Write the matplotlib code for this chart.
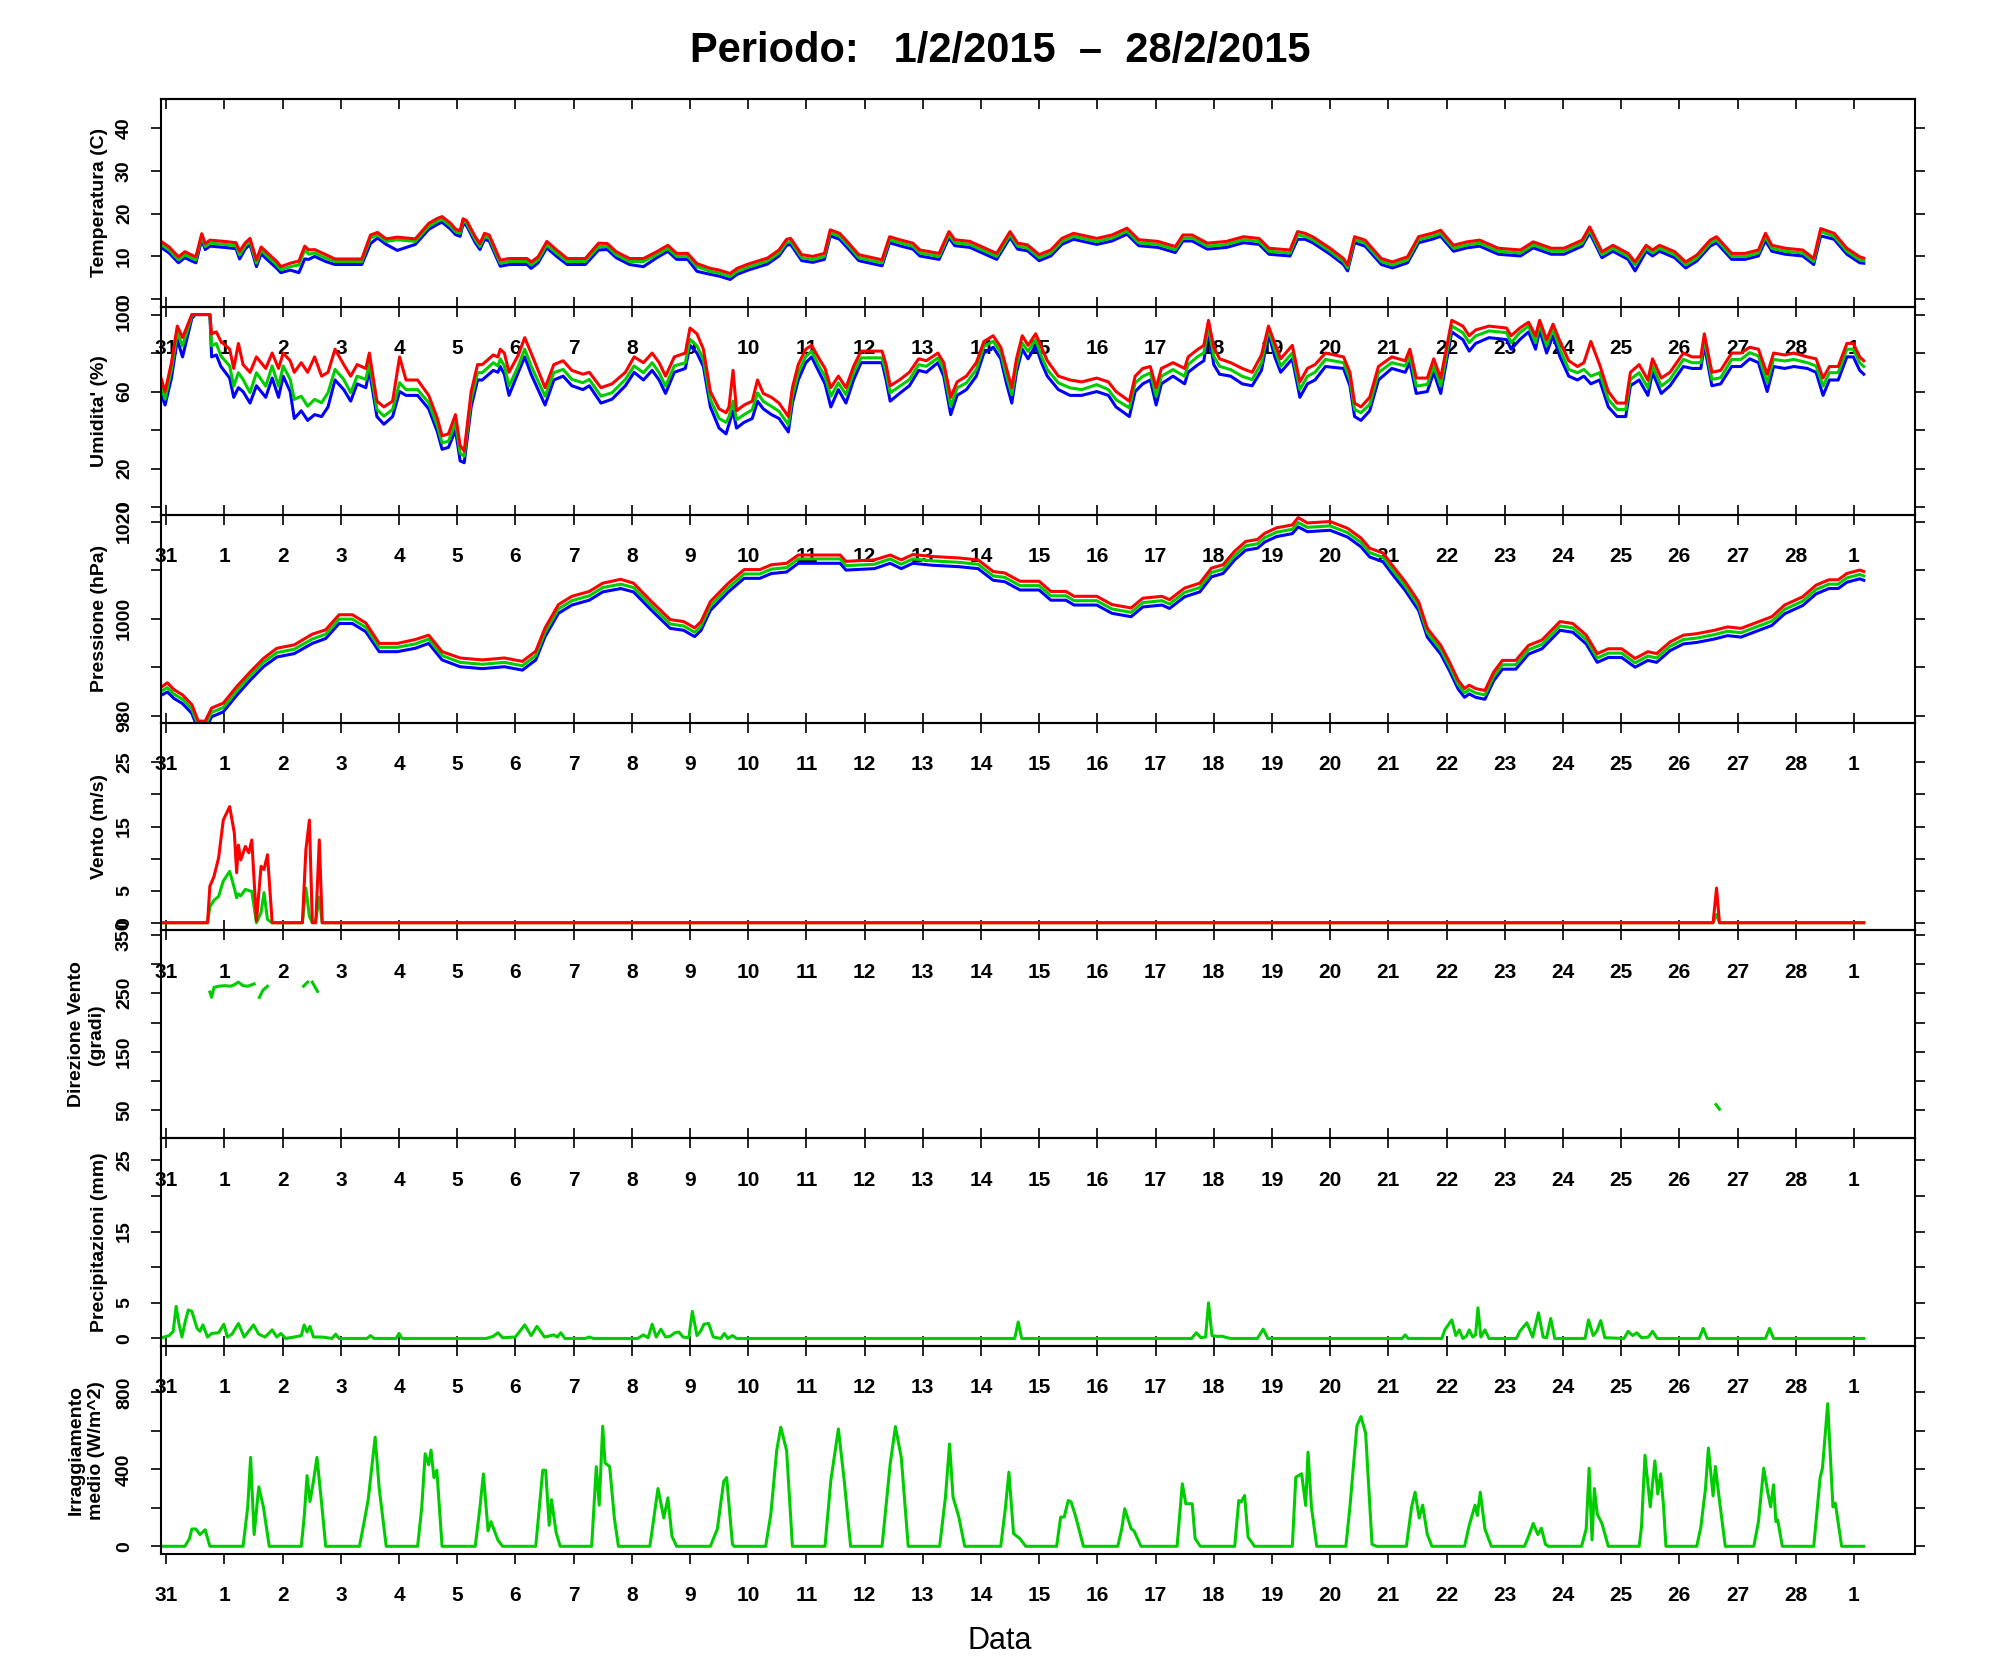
import numpy as np
import matplotlib
matplotlib.use('Agg')
import matplotlib.pyplot as plt

plt.rcParams['font.family'] = ['Liberation Sans', 'DejaVu Sans']

# x positions are days counted from the "31" tick (31 Jan)
day_pos = list(range(30))
day_labels = ['31', '1', '2', '3', '4', '5', '6', '7', '8', '9', '10', '11', '12', '13', '14',
              '15', '16', '17', '18', '19', '20', '21', '22', '23', '24', '25', '26', '27', '28', '1']

# --- Temperatura (C): min / media / max ---
temp_t = [-0.12, 0.05, 0.21, 0.32, 0.44, 0.51, 0.61, 0.67, 0.75, 1.00,
          1.20, 1.26, 1.36, 1.44, 1.55, 1.63, 1.74, 1.90, 1.97, 2.13,
          2.28, 2.38, 2.45, 2.55, 2.74, 2.90, 3.36, 3.51, 3.63, 3.78,
          3.97, 4.28, 4.51, 4.66, 4.74, 4.89, 4.97, 5.05, 5.10, 5.16,
          5.31, 5.39, 5.47, 5.55, 5.74, 5.89, 6.20, 6.27, 6.39, 6.54,
          6.70, 6.89, 7.20, 7.43, 7.58, 7.73, 7.96, 8.20, 8.43, 8.62,
          8.77, 8.96, 9.12, 9.35, 9.50, 9.69, 9.81, 10.00, 10.33, 10.53,
          10.66, 10.73, 10.92, 11.11, 11.31, 11.41, 11.57, 11.70, 11.90, 12.30,
          12.43, 12.60, 12.83, 12.95, 13.28, 13.45, 13.55, 13.81, 14.27, 14.50,
          14.63, 14.80, 15.00, 15.20, 15.39, 15.59, 15.99, 16.25, 16.51, 16.71,
          17.04, 17.34, 17.47, 17.63, 17.89, 18.22, 18.51, 18.78, 18.95, 19.31,
          19.44, 19.57, 19.70, 20.00, 20.23, 20.30, 20.42, 20.60, 20.88, 21.07,
          21.33, 21.52, 21.75, 21.90, 22.12, 22.35, 22.57, 22.89, 23.27, 23.49,
          23.80, 24.02, 24.33, 24.46, 24.67, 24.86, 25.12, 25.24, 25.43, 25.54,
          25.66, 25.92, 26.11, 26.30, 26.53, 26.64, 26.90, 27.13, 27.36, 27.48,
          27.59, 27.82, 28.12, 28.31, 28.43, 28.66, 28.88, 29.10, 29.17]
temp_mean = [13.1, 11.5, 9.2, 10.4, 9.6, 9.2, 14.7, 12.3, 13.1, 12.8,
             12.5, 10.3, 12.5, 13.5, 8.4, 11.5, 10.0, 8.0, 6.9, 7.6,
             8.0, 11.5, 10.5, 10.8, 9.6, 8.8, 8.8, 14.3, 15.0, 13.5,
             13.9, 13.5, 17.0, 18.2, 18.7, 17.0, 15.8, 15.4, 18.2, 17.8,
             13.9, 12.3, 14.7, 14.3, 8.4, 8.8, 8.8, 8.0, 9.2, 12.7,
             10.8, 8.8, 8.8, 12.3, 12.3, 10.4, 8.8, 8.8, 10.4, 11.9,
             10.0, 10.0, 7.6, 6.5, 6.1, 5.3, 6.5, 7.5, 8.9, 10.8,
             13.3, 13.5, 9.7, 9.3, 10.0, 15.5, 14.7, 12.8, 9.7, 8.5,
             13.9, 13.2, 12.4, 10.8, 10.0, 15.1, 13.2, 12.8, 10.0, 15.1,
             12.4, 12.0, 9.7, 10.8, 13.5, 14.7, 13.5, 14.3, 15.9, 13.2,
             12.8, 11.6, 14.3, 14.3, 12.4, 12.8, 13.9, 13.5, 11.2, 10.8,
             15.0, 14.7, 13.9, 11.2, 8.8, 7.3, 13.9, 13.1, 8.8, 8.0,
             9.2, 13.9, 14.7, 15.4, 11.9, 12.7, 13.1, 11.2, 10.8, 12.7,
             11.2, 11.2, 13.1, 16.2, 10.4, 11.9, 10.0, 8.0, 11.9, 10.8,
             11.9, 10.4, 8.0, 9.6, 13.1, 13.9, 10.0, 10.0, 10.8, 14.7,
             11.9, 11.2, 10.8, 8.8, 15.8, 14.7, 11.2, 9.2, 9.0]
temp_max = [13.8, 12.2, 9.9, 11.1, 10.3, 9.9, 15.3, 13.0, 13.8, 13.5,
            13.2, 11.2, 13.2, 14.2, 9.2, 12.2, 10.8, 8.8, 7.6, 8.4,
            8.9, 12.4, 11.5, 11.6, 10.4, 9.4, 9.4, 15.0, 15.6, 14.1,
            14.5, 14.1, 17.7, 18.9, 19.3, 17.7, 16.4, 16.0, 18.8, 18.4,
            14.6, 13.0, 15.4, 15.0, 9.1, 9.5, 9.5, 8.7, 9.9, 13.5,
            11.6, 9.5, 9.5, 13.1, 13.0, 11.1, 9.5, 9.5, 11.1, 12.6,
            10.7, 10.7, 8.3, 7.2, 6.8, 6.0, 7.2, 8.2, 9.6, 11.5,
            14.0, 14.2, 10.4, 10.0, 10.7, 16.2, 15.4, 13.5, 10.4, 9.2,
            14.6, 13.9, 13.1, 11.5, 10.7, 15.8, 13.9, 13.5, 10.7, 15.8,
            13.1, 12.7, 10.4, 11.5, 14.2, 15.4, 14.2, 15.0, 16.6, 13.9,
            13.5, 12.3, 15.0, 15.0, 13.1, 13.5, 14.6, 14.2, 11.9, 11.5,
            15.8, 15.4, 14.6, 11.9, 9.5, 8.0, 14.6, 13.8, 9.5, 8.7,
            9.9, 14.6, 15.4, 16.1, 12.6, 13.4, 13.8, 11.9, 11.5, 13.4,
            11.9, 11.9, 13.8, 16.9, 11.1, 12.6, 10.7, 8.7, 12.6, 11.5,
            12.6, 11.1, 8.7, 10.3, 13.8, 14.6, 10.7, 10.7, 11.5, 15.4,
            12.6, 11.9, 11.5, 9.5, 16.5, 15.4, 11.9, 9.9, 9.6]
temp_min = [12.4, 10.8, 8.5, 9.7, 8.9, 8.5, 13.9, 11.6, 12.4, 12.1,
            11.8, 9.4, 11.8, 12.8, 7.6, 10.6, 9.2, 7.2, 6.2, 6.8,
            6.2, 9.4, 9.3, 10.0, 8.8, 8.1, 8.1, 13.0, 14.3, 12.8,
            11.4, 12.8, 16.3, 17.5, 18.0, 16.3, 15.1, 14.7, 17.6, 17.2,
            13.2, 11.6, 14.0, 13.6, 7.7, 8.1, 8.1, 7.2, 8.5, 12.0,
            10.1, 8.1, 8.1, 11.5, 11.6, 9.7, 8.1, 7.6, 9.7, 11.2,
            9.3, 9.3, 6.5, 5.8, 5.4, 4.6, 5.8, 6.8, 8.2, 10.1,
            12.6, 12.8, 9.0, 8.6, 9.3, 14.8, 14.0, 12.1, 9.0, 7.8,
            13.2, 12.5, 11.7, 10.1, 9.3, 14.4, 12.5, 12.1, 9.3, 14.4,
            11.7, 11.3, 9.0, 10.1, 12.8, 14.0, 12.8, 13.6, 15.2, 12.5,
            12.1, 10.9, 13.6, 13.6, 11.7, 12.1, 13.2, 12.8, 10.5, 10.1,
            14.0, 14.0, 13.2, 10.5, 8.1, 6.6, 13.2, 12.4, 8.1, 7.3,
            8.5, 13.2, 14.0, 14.7, 11.2, 12.0, 12.4, 10.5, 10.1, 12.0,
            10.5, 10.5, 12.4, 15.5, 9.7, 11.2, 9.3, 6.6, 11.2, 10.1,
            11.2, 9.7, 7.3, 8.9, 12.4, 13.2, 9.3, 9.3, 10.1, 13.7,
            11.2, 10.5, 10.1, 8.1, 14.8, 14.0, 10.5, 8.5, 8.4]

# --- Umidita' (%) ---
hum_t = [-0.12, -0.02, 0.09, 0.19, 0.28, 0.44, 0.50, 0.75, 0.78, 0.86,
         0.94, 1.09, 1.16, 1.24, 1.32, 1.44, 1.55, 1.71, 1.82, 1.93,
         2.01, 2.13, 2.20, 2.32, 2.43, 2.55, 2.67, 2.78, 2.90, 3.05,
         3.17, 3.28, 3.43, 3.49, 3.62, 3.74, 3.89, 4.01, 4.12, 4.32,
         4.51, 4.66, 4.74, 4.85, 4.97, 5.05, 5.12, 5.24, 5.35, 5.43,
         5.62, 5.70, 5.74, 5.81, 5.89, 6.05, 6.16, 6.27, 6.51, 6.66,
         6.82, 6.97, 7.16, 7.27, 7.47, 7.66, 7.89, 8.04, 8.20, 8.35,
         8.47, 8.58, 8.73, 8.92, 9.00, 9.12, 9.23, 9.35, 9.50, 9.62,
         9.67, 9.74, 9.80, 9.93, 10.07, 10.16, 10.26, 10.40, 10.53, 10.69,
         10.76, 10.86, 10.99, 11.09, 11.22, 11.32, 11.42, 11.55, 11.68, 11.81,
         11.94, 12.30, 12.37, 12.44, 12.60, 12.77, 12.93, 13.06, 13.26, 13.36,
         13.48, 13.59, 13.75, 13.92, 14.05, 14.21, 14.34, 14.44, 14.53, 14.61,
         14.71, 14.81, 14.94, 15.04, 15.14, 15.33, 15.53, 15.73, 15.99, 16.19,
         16.32, 16.55, 16.65, 16.78, 16.91, 17.01, 17.10, 17.30, 17.50, 17.56,
         17.73, 17.83, 17.91, 18.00, 18.10, 18.29, 18.49, 18.66, 18.82, 18.94,
         19.05, 19.15, 19.35, 19.48, 19.61, 19.74, 19.92, 20.23, 20.34, 20.42,
         20.53, 20.68, 20.83, 21.06, 21.29, 21.37, 21.48, 21.67, 21.78, 21.90,
         22.09, 22.28, 22.39, 22.50, 22.73, 23.03, 23.11, 23.26, 23.41, 23.53,
         23.60, 23.72, 23.83, 23.95, 24.10, 24.25, 24.36, 24.48, 24.63, 24.78,
         24.93, 25.08, 25.16, 25.31, 25.46, 25.54, 25.69, 25.84, 26.07, 26.22,
         26.37, 26.43, 26.56, 26.71, 26.90, 27.06, 27.21, 27.36, 27.51, 27.62,
         27.81, 27.97, 28.20, 28.35, 28.47, 28.58, 28.73, 28.88, 28.99, 29.10,
         29.17]
hum_mean = [66, 56, 71.5, 90.6, 83.7, 99.3, 100, 100, 83.7, 85,
            78.5, 73.3, 62.8, 69.8, 66.3, 59.4, 69.8, 62.8, 73.3, 62.8,
            73.3, 66.3, 55.9, 57.6, 52.4, 55.9, 54.2, 59.4, 71.5, 66.3,
            59.4, 68, 66.3, 75, 50.7, 47.2, 50.7, 64.6, 61, 61,
            54.2, 42, 33.3, 34.2, 43.8, 28, 26.4, 55.9, 69.8, 69.8,
            75, 73.3, 77, 73.3, 62.8, 73.3, 82, 73.3, 57.6, 69.8,
            71.5, 66.3, 64.6, 66.3, 57.6, 59.4, 66.3, 73.3, 69.8, 75,
            69.8, 62.8, 73.3, 75, 87.2, 83.7, 76.7, 55.9, 46, 44,
            47, 55, 45.4, 48, 50.6, 59.3, 54.9, 52.3, 49.7, 42.8,
            57.5, 69.7, 78.3, 80.9, 73.1, 67.9, 57.5, 64.5, 58.4, 69.7,
            77.5, 77.5, 69.7, 59.3, 62.7, 66.2, 74, 73.1, 77.5, 71.4,
            52.3, 61.9, 64.5, 71.4, 83.5, 86.1, 80.1, 67.9, 58.4, 73.1,
            85.2, 80.9, 87, 78.3, 71.4, 64.5, 61.9, 61, 63.6, 61,
            55.8, 51.5, 64.5, 67.9, 69.7, 57.5, 67.9, 71.4, 67.9, 74,
            78.3, 80.1, 94, 78.3, 73.1, 71.4, 67.9, 66.2, 74.9, 92.2,
            81.8, 73.1, 80.1, 61, 67.9, 70, 76.7, 75, 66.3, 50.7,
            49, 53.3, 69.8, 75, 73.3, 78.5, 62.8, 63.7, 73.3, 62.8,
            94.1, 90.6, 85.4, 88.9, 91.5, 90.6, 85.4, 90.6, 94.1, 85.4,
            95, 83.7, 92.4, 82, 71.5, 69.8, 71.5, 68, 69.8, 55.9,
            50.7, 50.7, 66.3, 69.8, 62, 73.3, 62.8, 66.3, 76.7, 75,
            75, 87.2, 66.3, 67.2, 76.7, 76.7, 80.2, 78.5, 64.6, 76.7,
            75.9, 76.7, 75, 73.3, 62.8, 69.8, 69.8, 82, 82, 75,
            73]
hum_max = [70, 60, 75, 94, 88, 100, 100, 100, 90, 91,
           86, 82, 72, 85, 74, 70, 78, 72, 80, 72,
           80, 76, 70, 75, 70, 78, 68, 70, 82, 74,
           68, 74, 72, 80, 55, 52, 55, 78, 66, 66,
           58, 46, 37, 38, 48, 32, 29, 60, 74, 74,
           79, 78, 82, 80, 70, 79, 88, 80, 62, 74,
           76, 71, 69, 70, 62, 64, 70, 78, 75, 80,
           75, 68, 78, 80, 93, 90, 82, 60, 51, 49,
           52, 71, 50, 53, 55, 66, 59, 57, 54, 47,
           62, 74, 82, 84, 77, 72, 62, 68, 62, 73,
           81, 81, 74, 63, 66, 70, 77, 76, 80, 75,
           57, 65, 68, 75, 86, 89, 83, 72, 62, 77,
           89, 84, 90, 83, 76, 68, 66, 65, 67, 65,
           60, 55, 68, 72, 73, 62, 72, 75, 72, 78,
           82, 84, 97, 83, 77, 75, 72, 70, 79, 94,
           85, 77, 84, 65, 72, 74, 80, 78, 70, 54,
           52, 57, 73, 78, 76, 82, 67, 67, 77, 67,
           97, 94, 89, 92, 94, 93, 89, 93, 96, 89,
           97, 87, 95, 86, 76, 73, 75, 86, 74, 60,
           54, 54, 70, 74, 66, 77, 67, 70, 80, 78,
           78, 90, 70, 71, 80, 80, 83, 82, 69, 80,
           79, 80, 78, 77, 67, 73, 73, 85, 85, 78,
           76]
hum_min = [61, 53, 67, 87, 78, 98, 100, 100, 78, 79,
           73, 67, 57, 62, 60, 54, 63, 57, 67, 57,
           68, 60, 46, 50, 45, 48, 47, 52, 66, 61,
           55, 64, 62, 71, 47, 43, 47, 60, 58, 58,
           51, 39, 30, 31, 40, 24, 23, 52, 66, 66,
           71, 70, 73, 69, 58, 70, 78, 69, 53, 66,
           68, 63, 61, 63, 54, 56, 63, 70, 66, 71,
           66, 59, 70, 72, 84, 80, 73, 52, 41, 38,
           43, 50, 41, 44, 46, 55, 51, 48, 46, 39,
           54, 66, 75, 78, 70, 64, 52, 61, 54, 66,
           75, 75, 66, 55, 59, 63, 71, 70, 75, 68,
           48, 58, 61, 68, 80, 83, 77, 64, 54, 70,
           82, 77, 84, 75, 68, 61, 58, 58, 60, 58,
           52, 47, 60, 64, 66, 53, 64, 68, 64, 70,
           74, 76, 92, 74, 69, 68, 64, 63, 71, 90,
           78, 70, 77, 57, 64, 66, 73, 72, 63, 47,
           45, 50, 66, 72, 70, 75, 59, 60, 70, 59,
           91, 87, 81, 85, 88, 87, 82, 87, 91, 82,
           92, 80, 89, 78, 68, 66, 68, 64, 66, 52,
           47, 47, 63, 66, 58, 70, 59, 63, 73, 72,
           72, 84, 63, 64, 73, 73, 77, 75, 60, 73,
           72, 73, 72, 70, 58, 66, 66, 78, 78, 71,
           69]

# --- Pressione (hPa) ---
pres_t = [-0.12, 0.02, 0.13, 0.28, 0.44, 0.55, 0.67, 0.78, 0.98, 1.21,
          1.44, 1.67, 1.90, 2.20, 2.51, 2.74, 2.97, 3.20, 3.43, 3.66,
          3.97, 4.28, 4.51, 4.74, 5.05, 5.43, 5.81, 6.12, 6.35, 6.51,
          6.74, 6.97, 7.27, 7.50, 7.81, 8.03, 8.34, 8.66, 8.89, 9.08,
          9.19, 9.35, 9.65, 9.93, 10.20, 10.40, 10.66, 10.86, 11.58, 11.68,
          12.17, 12.44, 12.63, 12.83, 13.16, 13.62, 13.95, 14.21, 14.41, 14.67,
          15.00, 15.20, 15.46, 15.60, 15.99, 16.25, 16.58, 16.78, 17.11, 17.24,
          17.50, 17.76, 17.96, 18.16, 18.36, 18.55, 18.75, 18.88, 19.08, 19.35,
          19.45, 19.61, 20.00, 20.30, 20.53, 20.68, 20.91, 21.06, 21.29, 21.52,
          21.67, 21.90, 22.05, 22.20, 22.31, 22.39, 22.50, 22.66, 22.81, 22.96,
          23.19, 23.41, 23.64, 23.95, 24.17, 24.40, 24.59, 24.78, 25.01, 25.24,
          25.46, 25.61, 25.84, 26.07, 26.30, 26.60, 26.83, 27.06, 27.28, 27.59,
          27.81, 28.12, 28.35, 28.57, 28.73, 28.88, 29.10, 29.17]
pres_mean = [984.8, 985.8, 984.5, 983.4, 981.4, 978.0, 978.0, 980.7, 981.7, 985.1,
             988.2, 991.0, 993.0, 993.7, 995.8, 996.8, 999.9, 999.9, 998.2, 994.1,
             994.1, 994.8, 995.8, 992.4, 991.0, 990.6, 991.0, 990.3, 992.4, 997.2,
             1002.0, 1003.7, 1004.7, 1006.4, 1007.1, 1006.4, 1002.6, 998.9, 998.5, 997.2,
             998.5, 1002.6, 1006.3, 1009.2, 1009.2, 1010.2, 1010.5, 1012.3, 1012.3, 1010.9,
             1011.2, 1012.3, 1011.2, 1012.3, 1011.9, 1011.6, 1011.2, 1008.8, 1008.5, 1006.8,
             1006.8, 1004.7, 1004.7, 1003.7, 1003.7, 1002.0, 1001.3, 1003.3, 1003.7, 1003.0,
             1005.4, 1006.4, 1009.5, 1010.2, 1013.0, 1015.0, 1015.4, 1016.7, 1017.8, 1018.4,
             1019.8, 1018.8, 1019.1, 1017.7, 1015.7, 1013.6, 1012.6, 1010.2, 1006.7, 1002.6,
             997.1, 993.6, 990.2, 986.4, 984.7, 985.4, 984.7, 984.3, 988.1, 990.5,
             990.5, 993.6, 994.7, 998.5, 998.1, 995.7, 991.9, 992.9, 992.9, 990.9,
             992.3, 991.9, 994.3, 995.7, 996.0, 996.7, 997.4, 997.1, 998.1, 999.5,
             1001.9, 1003.6, 1006.0, 1007.1, 1007.1, 1008.4, 1009.1, 1008.8]
pres_max = [985.6, 986.8, 985.4, 984.3, 982.3, 978.9, 978.9, 981.6, 982.6, 986.0,
            989.0, 991.8, 993.9, 994.6, 996.8, 997.7, 1000.8, 1000.8, 999.1, 994.9,
            994.9, 995.7, 996.6, 993.2, 991.9, 991.5, 991.9, 991.2, 993.3, 998.1,
            1002.9, 1004.6, 1005.6, 1007.3, 1008.1, 1007.3, 1003.5, 999.8, 999.4, 998.1,
            999.4, 1003.5, 1007.2, 1010.1, 1010.1, 1011.1, 1011.4, 1013.1, 1013.1, 1011.8,
            1012.1, 1013.1, 1012.1, 1013.2, 1012.8, 1012.5, 1012.1, 1009.7, 1009.4, 1007.7,
            1007.7, 1005.6, 1005.6, 1004.6, 1004.6, 1002.9, 1002.2, 1004.2, 1004.6, 1003.9,
            1006.3, 1007.3, 1010.4, 1011.1, 1013.9, 1015.9, 1016.3, 1017.6, 1018.7, 1019.3,
            1020.8, 1019.7, 1020.0, 1018.6, 1016.6, 1014.5, 1013.5, 1011.1, 1007.6, 1003.5,
            998.0, 994.5, 991.1, 987.3, 985.6, 986.3, 985.6, 985.2, 989.0, 991.4,
            991.4, 994.5, 995.6, 999.4, 999.0, 996.6, 992.8, 993.8, 993.8, 991.8,
            993.2, 992.8, 995.2, 996.6, 996.9, 997.6, 998.3, 998.0, 999.0, 1000.4,
            1002.8, 1004.5, 1006.9, 1008.0, 1008.0, 1009.3, 1010.0, 1009.7]
pres_min = [984.0, 984.9, 983.6, 982.5, 980.5, 977.1, 977.1, 979.8, 980.8, 984.2,
            987.3, 990.1, 992.1, 992.8, 994.9, 995.9, 999.0, 999.0, 997.3, 993.2,
            993.2, 993.9, 994.9, 991.5, 990.1, 989.7, 990.1, 989.4, 991.5, 996.3,
            1001.1, 1002.8, 1003.8, 1005.5, 1006.2, 1005.5, 1001.7, 998.0, 997.6, 996.3,
            997.6, 1001.7, 1005.4, 1008.3, 1008.3, 1009.3, 1009.6, 1011.4, 1011.4, 1010.0,
            1010.3, 1011.4, 1010.3, 1011.4, 1011.0, 1010.7, 1010.3, 1007.9, 1007.6, 1005.9,
            1005.9, 1003.8, 1003.8, 1002.8, 1002.8, 1001.1, 1000.4, 1002.4, 1002.8, 1002.1,
            1004.5, 1005.5, 1008.6, 1009.3, 1012.1, 1014.1, 1014.5, 1015.8, 1016.9, 1017.5,
            1018.9, 1017.9, 1018.2, 1016.8, 1014.8, 1012.7, 1011.7, 1009.3, 1005.8, 1001.7,
            996.2, 992.7, 989.3, 985.5, 983.8, 984.5, 983.8, 983.4, 987.2, 989.6,
            989.6, 992.7, 993.8, 997.6, 997.2, 994.8, 991.0, 992.0, 992.0, 990.0,
            991.4, 991.0, 993.4, 994.8, 995.1, 995.8, 996.5, 996.2, 997.2, 998.6,
            1001.0, 1002.7, 1005.1, 1006.2, 1006.2, 1007.5, 1008.2, 1007.9]

# --- Vento (m/s): media / raffica ---
wind_t = [-0.12, 0.71, 0.75, 0.82, 0.90, 0.98, 1.09, 1.17, 1.21, 1.24,
          1.28, 1.36, 1.42, 1.47, 1.55, 1.63, 1.68, 1.74, 1.82, 2.34,
          2.40, 2.46, 2.51, 2.57, 2.63, 2.68, 26.58, 26.64, 26.69, 29.17]
wind_max = [0, 0, 5.7, 7.2, 10.1, 16.0, 18.1, 14.0, 7.8, 12.1,
            9.8, 11.9, 10.9, 12.9, 0.3, 8.8, 8.3, 10.6, 0, 0,
            11.4, 16.0, 0, 0, 12.9, 0, 0, 5.4, 0, 0]
wind_mean = [0, 0, 2.5, 3.5, 4.1, 6.5, 8.0, 5.4, 3.9, 4.5,
             4.2, 5.2, 5.0, 4.9, 0, 1.6, 4.7, 0.5, 0, 0,
             5.4, 1.0, 0, 0.5, 4.0, 0, 0, 1.3, 0, 0]

# --- Direzione vento (gradi), NaN = no wind ---
dir_t = [0.75, 0.78, 0.82, 0.90, 1.01, 1.10, 1.16, 1.24, 1.32, 1.40, 1.51, 1.55,
         1.60, 1.66, 1.74, 1.78,
         2.36, 2.43, 2.47,
         2.51, 2.60, 2.64,
         26.63, 26.69]
dir_deg = [252, 243, 260, 262, 263, 262, 264, 269, 263, 262, 266, np.nan,
           243, 255, 262, np.nan,
           262, 269, np.nan,
           269, 253, np.nan,
           60, 52]

# --- Precipitazioni (mm) ---
prec_t = [-0.12, 0.05, 0.12, 0.17, 0.22, 0.27, 0.33, 0.38, 0.44, 0.53,
          0.58, 0.63, 0.71, 0.78, 0.90, 0.99, 1.05, 1.13, 1.24, 1.34,
          1.50, 1.59, 1.70, 1.82, 1.90, 1.97, 2.05, 2.20, 2.32, 2.37,
          2.42, 2.47, 2.53, 2.67, 2.85, 2.91, 2.97, 3.45, 3.51, 3.57,
          3.95, 4.00, 4.05, 5.50, 5.62, 5.70, 5.78, 6.00, 6.16, 6.27,
          6.37, 6.50, 6.66, 6.72, 6.78, 6.85, 7.20, 7.27, 7.34, 8.10,
          8.20, 8.28, 8.35, 8.42, 8.50, 8.58, 8.66, 8.74, 8.81, 8.88,
          8.98, 9.04, 9.12, 9.18, 9.24, 9.32, 9.40, 9.53, 9.59, 9.65,
          9.73, 9.80, 14.58, 14.64, 14.70, 17.62, 17.70, 17.78, 17.86, 17.91,
          17.97, 18.05, 18.15, 18.23, 18.30, 18.75, 18.85, 18.93, 21.24, 21.29,
          21.34, 21.92, 21.97, 22.09, 22.16, 22.22, 22.28, 22.34, 22.39, 22.45,
          22.50, 22.54, 22.59, 22.66, 22.73, 23.20, 23.26, 23.38, 23.48, 23.58,
          23.66, 23.72, 23.79, 23.86, 24.38, 24.44, 24.52, 24.58, 24.65, 24.72,
          25.05, 25.12, 25.20, 25.27, 25.35, 25.47, 25.54, 25.62, 26.34, 26.41,
          26.48, 27.48, 27.55, 27.62, 29.17]
prec_mm = [0, 0.4, 1.0, 4.5, 2.0, 0.2, 2.5, 4.0, 3.8, 1.4,
           1.0, 1.9, 0.2, 0.7, 0.8, 2.0, 0.2, 0.6, 2.1, 0.2,
           1.9, 0.6, 0.2, 1.2, 0.2, 0.7, 0, 0.2, 0.4, 1.9,
           0.9, 1.7, 0.2, 0.2, 0, 0.6, 0, 0, 0.4, 0,
           0, 0.7, 0, 0, 0.3, 0.8, 0.1, 0.2, 1.9, 0.4,
           1.7, 0.2, 0.5, 0.2, 0.8, 0, 0, 0.2, 0, 0,
           0.5, 0.1, 2.0, 0.2, 1.3, 0.2, 0.3, 0.8, 0.9, 0.2,
           0.1, 3.8, 0.4, 1.0, 2.0, 2.1, 0.2, 0, 0.7, 0,
           0.4, 0, 0, 2.3, 0, 0, 0.8, 0.1, 0.2, 5.0,
           0.4, 0.3, 0.3, 0.1, 0, 0, 1.3, 0, 0, 0.5,
           0, 0, 1.2, 2.6, 0.4, 1.2, 0, 0.3, 1.2, 0.2,
           0.5, 4.3, 0.2, 1.2, 0, 0, 1.0, 2.2, 0.2, 3.6,
           0.2, 0.1, 2.8, 0, 0, 2.6, 0.4, 1.0, 2.5, 0.1,
           0, 1.0, 0.4, 0.8, 0.1, 0.2, 1.0, 0, 0, 1.4,
           0, 0, 1.4, 0, 0]

# --- Irraggiamento medio (W/m^2) ---
irr_t = [-0.12, 0.32, 0.40, 0.44, 0.51, 0.58, 0.67, 0.75,
         1.32, 1.40, 1.45, 1.51, 1.59, 1.67, 1.77,
         2.32, 2.37, 2.42, 2.47, 2.53, 2.59, 2.67, 2.74,
         3.32, 3.39, 3.47, 3.59, 3.66, 3.78,
         4.32, 4.39, 4.45, 4.51, 4.55, 4.60, 4.65, 4.74,
         5.31, 5.39, 5.45, 5.53, 5.58, 5.70, 5.78,
         6.35, 6.47, 6.52, 6.58, 6.62, 6.70, 6.77,
         7.31, 7.39, 7.44, 7.50, 7.54, 7.62, 7.70, 7.77,
         8.31, 8.45, 8.55, 8.62, 8.69, 8.77,
         9.35, 9.47, 9.58, 9.63, 9.73, 9.76,
         10.30, 10.39, 10.49, 10.56, 10.66, 10.76,
         11.32, 11.42, 11.55, 11.65, 11.76,
         12.30, 12.44, 12.53, 12.63, 12.75,
         13.29, 13.39, 13.46, 13.52, 13.62, 13.72,
         14.34, 14.42, 14.48, 14.56, 14.67, 14.77,
         15.30, 15.37, 15.43, 15.50, 15.55, 15.63, 15.76,
         16.35, 16.42, 16.47, 16.58, 16.63, 16.75,
         17.37, 17.42, 17.46, 17.52, 17.63, 17.68, 17.77,
         18.36, 18.43, 18.47, 18.53, 18.59, 18.70,
         19.35, 19.41, 19.51, 19.58, 19.62, 19.68, 19.77,
         20.27, 20.34, 20.46, 20.53, 20.61, 20.72, 20.80,
         21.31, 21.40, 21.46, 21.53, 21.59, 21.67, 21.75,
         22.31, 22.39, 22.49, 22.53, 22.58, 22.66, 22.77,
         23.34, 23.41, 23.49, 23.57, 23.63, 23.70, 23.75,
         24.32, 24.40, 24.45, 24.50, 24.54, 24.59, 24.67, 24.78,
         25.31, 25.35, 25.41, 25.50, 25.58, 25.63, 25.68, 25.73, 25.77,
         26.30, 26.37, 26.45, 26.50, 26.58, 26.62, 26.68, 26.79,
         27.28, 27.36, 27.45, 27.52, 27.57, 27.62, 27.66, 27.69, 27.77,
         28.31, 28.42, 28.46, 28.55, 28.64, 28.68, 28.79, 29.17]
irr_wm2 = [0, 0, 40, 90, 90, 61, 86, 0,
           0, 204, 462, 61, 309, 204, 0,
           0, 150, 367, 233, 338, 462, 223, 0,
           0, 109, 242, 567, 300, 0,
           0, 200, 481, 424, 500, 357, 395, 0,
           0, 200, 376, 80, 128, 32, 0,
           0, 395, 395, 109, 242, 71, 0,
           0, 414, 214, 624, 433, 414, 147, 0,
           0, 300, 147, 252, 52, 0,
           0, 90, 338, 357, 10, 0,
           0, 169, 498, 619, 498, 0,
           0, 342, 610, 342, 0,
           0, 428, 622, 463, 0,
           0, 256, 532, 256, 152, 0,
           0, 200, 385, 66, 40, 0,
           0, 152, 152, 238, 230, 152, 0,
           0, 92, 195, 92, 80, 0,
           0, 180, 325, 221, 221, 40, 0,
           0, 238, 230, 264, 48, 0,
           0, 359, 377, 212, 489, 200, 0,
           0, 205, 626, 674, 588, 10, 0,
           0, 205, 281, 147, 214, 61, 0,
           0, 109, 214, 160, 281, 90, 0,
           0, 52, 119, 61, 94, 10, 0,
           0, 90, 406, 33, 300, 167, 119, 0,
           0, 100, 473, 205, 444, 272, 377, 205, 0,
           0, 100, 300, 511, 262, 415, 262, 0,
           0, 128, 406, 281, 205, 320, 128, 138, 0,
           0, 358, 406, 741, 205, 224, 0, 0]

# y ticks per panel (R drops labels that would overlap)
temp_ticks = [0, 10, 20, 30, 40]
temp_tick_labels = ['0', '10', '20', '30', '40']
hum_ticks = [0, 20, 40, 60, 80, 100]
hum_tick_labels = ['0', '20', '', '60', '', '100']
pres_ticks = [980, 990, 1000, 1010, 1020]
pres_tick_labels = ['980', '', '1000', '', '1020']
wind_ticks = [0, 5, 10, 15, 20, 25]
wind_tick_labels = ['0', '5', '', '15', '', '25']
dir_ticks = [50, 100, 150, 200, 250, 300, 350]
dir_tick_labels = ['50', '', '150', '', '250', '', '350']
prec_ticks = [0, 5, 10, 15, 20, 25]
prec_tick_labels = ['0', '5', '', '15', '', '25']
irr_ticks = [0, 200, 400, 600, 800]
irr_tick_labels = ['0', '', '400', '', '800']

RED, GREEN, BLUE = '#ff0000', '#00cd00', '#0000ff'

panels = [
    dict(name='Temperatura (C)', ylim=(-1.8, 46.8), ticks=temp_ticks, tl=temp_tick_labels,
         lines=[(temp_t, temp_min, BLUE), (temp_t, temp_mean, GREEN), (temp_t, temp_max, RED)]),
    dict(name="Umidita' (%)", ylim=(-4.0, 104.0), ticks=hum_ticks, tl=hum_tick_labels,
         lines=[(hum_t, hum_min, BLUE), (hum_t, hum_mean, GREEN), (hum_t, hum_max, RED)]),
    dict(name='Pressione (hPa)', ylim=(978.6, 1021.4), ticks=pres_ticks, tl=pres_tick_labels,
         lines=[(pres_t, pres_min, BLUE), (pres_t, pres_mean, GREEN), (pres_t, pres_max, RED)]),
    dict(name='Vento (m/s)', ylim=(-1.2, 31.2), ticks=wind_ticks, tl=wind_tick_labels,
         lines=[(wind_t, wind_mean, GREEN), (wind_t, wind_max, RED)]),
    dict(name='Direzione Vento\n(gradi)', ylim=(2.3, 357.3), ticks=dir_ticks, tl=dir_tick_labels,
         lines=[(dir_t, dir_deg, GREEN)]),
    dict(name='Precipitazioni (mm)', ylim=(-1.08, 28.08), ticks=prec_ticks, tl=prec_tick_labels,
         lines=[(prec_t, prec_mm, GREEN)]),
    dict(name='Irraggiamento\nmedio (W/m^2)', ylim=(-40, 1040), ticks=irr_ticks, tl=irr_tick_labels,
         lines=[(irr_t, irr_wm2, GREEN)]),
]

W, H = 1991, 1680
fig = plt.figure(figsize=(W / 100, H / 100), dpi=100)
fig.patch.set_facecolor('white')

x_left, x_right = 161, 1915
y_top, y_bot = 99, 1554
ph = (y_bot - y_top) / len(panels)

for i, p in enumerate(panels):
    last = i == len(panels) - 1
    ax = fig.add_axes([x_left / W, 1 - (y_top + (i + 1) * ph) / H,
                       (x_right - x_left) / W, ph / H])
    ax.patch.set_visible(False)
    for t, v, c in p['lines']:
        ax.plot(t, v, color=c, lw=2.2, solid_joinstyle='round')
    ax.set_xlim(-0.09, 30.05)
    ax.set_ylim(*p['ylim'])

    ax.set_xticks(day_pos)
    ax.set_xticklabels(day_labels, fontweight='bold')
    ax.tick_params(axis='x', direction='out' if last else 'inout',
                   length=7.2 if last else 14.4, width=1.2, pad=16, labelsize=15)

    ax.set_yticks(p['ticks'])
    ax.set_yticklabels(p['tl'], fontweight='bold', rotation=90, va='center')
    ax.tick_params(axis='y', direction='out', length=7.2, width=1.2, pad=13,
                   labelsize=14, right=True, labelright=False)

    for s in ax.spines.values():
        s.set_linewidth(1.5)

    xl = -0.0426 if '\n' in p['name'] else -0.0353
    ax.text(xl, 0.5, p['name'], transform=ax.transAxes, rotation=90,
            ha='center', va='center', fontsize=14, fontweight='bold', linespacing=1.25)

    if i == 0:
        top = ax.secondary_xaxis('top')
        top.set_xticks(day_pos)
        top.tick_params(axis='x', direction='in', length=7.2, width=1.2, labeltop=False)
        top.spines['top'].set_linewidth(1.5)

fig.text(1000 / W, 1 - 51 / H, 'Periodo:   1/2/2015  \u2013  28/2/2015',
         ha='center', va='center', fontsize=30, fontweight='bold')
fig.text(1000 / W, 1 - 1641 / H, 'Data', ha='center', va='center', fontsize=22)

fig.savefig('out.png', dpi=100, facecolor='white')
